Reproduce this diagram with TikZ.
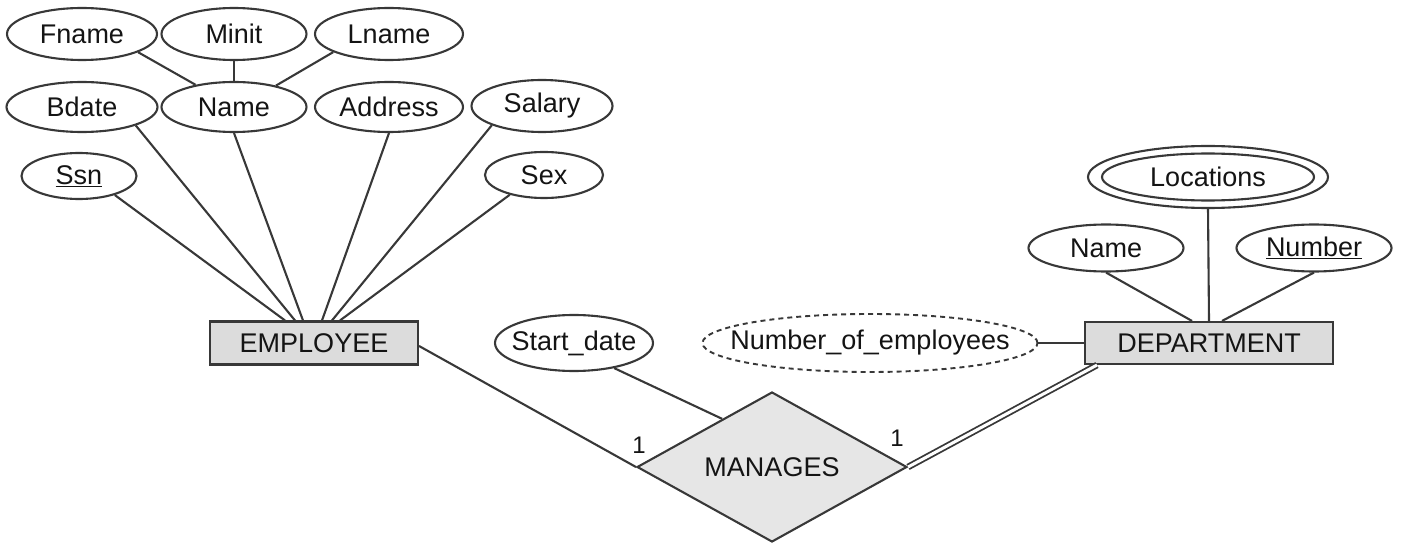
\documentclass[tikz,border=0pt]{standalone}
\usepackage{fontspec}
\setmainfont{Liberation Sans}
\usetikzlibrary{shapes.geometric}
\definecolor{ln}{HTML}{383838}
\definecolor{tx}{HTML}{141414}
\definecolor{boxfill}{HTML}{DCDCDC}
\definecolor{relfill}{HTML}{E6E6E6}
\newcommand\zb[1]{\makebox[0pt]{#1}}
\begin{document}
\begin{tikzpicture}[x=1pt,y=-1pt,
  every node/.style={text=tx, font=\fontsize{27}{30}\selectfont},
  sz/.style 2 args={minimum width=#1pt, minimum height=#2pt},
  attr/.style={ellipse, draw=ln, line width=2.1pt, inner sep=0pt, fill=white},
  derived/.style={ellipse, draw=ln, line width=1.9pt, dash pattern=on 5pt off 4pt, inner sep=0pt, fill=white},
  ent/.style={rectangle, draw=ln, line width=2.1pt, fill=boxfill, inner sep=0pt},
  rel/.style={diamond, draw=ln, line width=2.1pt, fill=relfill, inner sep=0pt, aspect=1.8},
  conn/.style={draw=ln, line width=2.1pt},
  total/.style={draw=ln, line width=1.8pt, double=white, double distance=3pt},
  card/.style={font=\fontsize{24}{26}\selectfont, inner sep=0pt}]
\useasboundingbox (0,0) rectangle (1407,545);

% EMPLOYEE attributes
\node[attr, sz={150}{52}] (fname) at (82,34) {\zb{Fname}};
\node[attr, sz={145}{52}] (minit) at (234,34) {\zb{Minit}};
\node[attr, sz={148}{52}] (lname) at (389,34) {\zb{Lname}};
\node[attr, sz={151}{50}] (bdate) at (82,107) {\zb{Bdate}};
\node[attr, sz={145}{50}] (ename) at (234,107) {\zb{Name}};
\node[attr, sz={148}{50}] (address) at (389,107) {\zb{Address}};
\node[attr, sz={141}{52}] (salary) at (542,106) {\zb{Salary}};
\node[attr, sz={115}{46}] (ssn) at (79,176) {\zb{\underline{Ssn}}};
\node[attr, sz={118}{46}] (sex) at (544,175) {\zb{Sex}};

\node[ent, sz={208}{43}] (emp) at (314,343) {EMPLOYEE};

% relationship
\node[attr, sz={158}{56}] (start) at (574,343) {\zb{Start\_date}};
\node[rel, sz={270}{150}] (man) at (772,467) {MANAGES};

% DEPARTMENT attributes
\node[derived, sz={335}{58}] (noe) at (870,343) {\zb{Number\_of\_employees}};
\node[ent, sz={248}{42}] (dept) at (1209,343) {DEPARTMENT};
\node[attr, sz={155}{47}] (dname) at (1106,248) {\zb{Name}};
\node[attr, sz={155}{47}] (dnum) at (1314,248) {\zb{\underline{Number}}};
\node[attr, sz={240}{62}] (loc) at (1208,177) {};
\node[attr, sz={212}{47}] (locin) at (1208,177) {\zb{Locations}};

% composite attribute
\draw[conn] (fname.-18) -- (ename.150);
\draw[conn] (minit.south) -- (ename.north);
\draw[conn] (lname.-162) -- (ename.27);

% EMPLOYEE attribute links
\draw[conn] (ssn.-28) -- ([xshift=-29pt]emp.north);
\draw[conn] (bdate.-19) -- ([xshift=-19pt]emp.north);
\draw[conn] (ename.south) -- ([xshift=-11pt]emp.north);
\draw[conn] (address.south) -- ([xshift=8pt]emp.north);
\draw[conn] (salary.-159) -- ([xshift=18pt]emp.north);
\draw[conn] (sex.-150) -- ([xshift=26pt]emp.north);

% DEPARTMENT attribute links
\draw[conn] (dname.south) -- ([xshift=-17pt]dept.north);
\draw[conn] (loc.south) -- (dept.north);
\draw[conn] (dnum.south) -- ([xshift=13pt]dept.north);
\draw[conn] (noe.east) -- (dept.west);

% relationship links
\draw[conn] ([yshift=-3pt]emp.east) -- (man.west);
\draw[conn] (start.-32) -- (man.136);
\draw[total] ([xshift=13pt]dept.south west) -- (man.east);

\node[card] (c1) at (639,445) {1};
\node[card] (c2) at (897,438) {1};
\end{tikzpicture}
\end{document}
